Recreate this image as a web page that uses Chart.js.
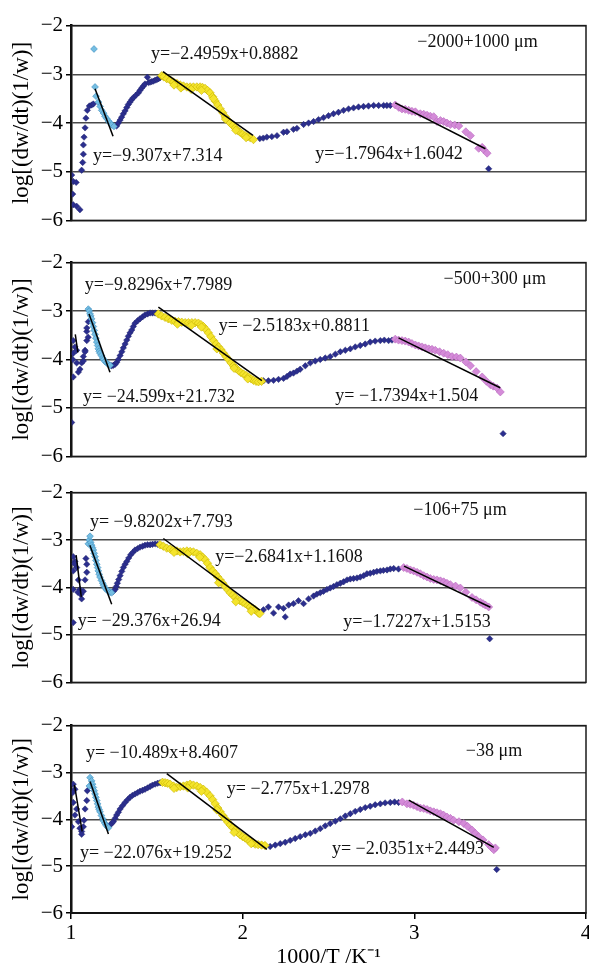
<!DOCTYPE html>
<html lang="en">
<head>
<meta charset="UTF-8">
<title>log[(dw/dt)(1/w)] vs 1000/T</title>
<script src="https://cdn.jsdelivr.net/npm/chart.js"></script>
<style>
  html, body { margin: 0; padding: 0; background: #fff; overflow: hidden; }
  body { width: 589px; height: 972px; position: relative; }
  .panel { position: absolute; left: 0; width: 589px; overflow: hidden; }
</style>
</head>
<body>
<div class="panel" style="top:10px;height:226px"><canvas id="c1" width="600" height="226"></canvas></div>
<div class="panel" style="top:247px;height:225px"><canvas id="c2" width="600" height="225"></canvas></div>
<div class="panel" style="top:477px;height:221px"><canvas id="c3" width="600" height="221"></canvas></div>
<div class="panel" style="top:710px;height:262px"><canvas id="c4" width="600" height="262"></canvas></div>

<script>
// ---- data: [1000/T, log rate] ----
// panel 1: -2000+1000 um
const p1Main = [[1.004,-5.07],[1.013,-5.2],[1.03,-5.22],[1.01,-5.46],[1.013,-5.68],[1.033,-5.71],[1.052,-5.78],
  [1.062,-4.97],[1.068,-4.81],[1.072,-4.64],[1.072,-4.45],[1.076,-4.29],[1.082,-4.10],[1.087,-3.90],[1.095,-3.74],[1.107,-3.65],[1.12,-3.63],[1.13,-3.61],
  [1.266,-4.06],[1.276,-4.0],[1.286,-3.94],[1.295,-3.88],[1.305,-3.81],[1.315,-3.75],[1.325,-3.68],[1.334,-3.62],[1.344,-3.57],[1.354,-3.52],[1.363,-3.48],[1.378,-3.43],[1.393,-3.38],[1.402,-3.33],[1.412,-3.28],[1.422,-3.24],[1.431,-3.20],[1.445,-3.06],[1.452,-3.17],[1.461,-3.16],[1.47,-3.15],[1.48,-3.14],[1.49,-3.12],[1.5,-3.11],[1.51,-3.09],[1.519,-3.07],
  [2.10,-4.32],[2.12,-4.31],[2.141,-4.29],[2.17,-4.28],[2.2,-4.26],[2.238,-4.19],[2.258,-4.18],[2.296,-4.13],[2.316,-4.11],[2.355,-4.03],[2.384,-4.0],[2.413,-3.97],[2.442,-3.93],[2.471,-3.89],[2.5,-3.85],[2.529,-3.81],[2.558,-3.78],[2.588,-3.74],[2.617,-3.71],[2.646,-3.69],[2.675,-3.67],[2.704,-3.66],[2.733,-3.65],[2.763,-3.64],[2.792,-3.64],[2.821,-3.64],[2.84,-3.64],[2.86,-3.64],
  [3.433,-4.94]];
const p1Cyan = [[1.134,-2.48],[1.14,-3.26],[1.146,-3.45],[1.16,-3.57],[1.17,-3.66],[1.179,-3.74],[1.19,-3.80],[1.198,-3.86],[1.208,-3.91],[1.218,-3.96],[1.228,-4.0],[1.237,-4.04],[1.25,-4.07]];
const p1Yellow = [[1.529,-3.03],[1.54,-3.05],[1.558,-3.09],[1.578,-3.12],[1.597,-3.16],[1.617,-3.19],[1.636,-3.22],[1.655,-3.24],[1.675,-3.26],[1.694,-3.26],[1.713,-3.26],[1.733,-3.26],[1.752,-3.26],[1.766,-3.27],[1.781,-3.29],[1.795,-3.33],[1.81,-3.38],[1.825,-3.46],[1.84,-3.55],[1.855,-3.63],[1.869,-3.71],[1.884,-3.79],[1.898,-3.87],[1.913,-3.94],[1.927,-4.0],[1.942,-4.05],[1.956,-4.1],[1.97,-4.15],[1.985,-4.19],[2.0,-4.23],[2.015,-4.26],[2.03,-4.28],[2.044,-4.30],[2.063,-4.34],
  [1.60,-3.22],[1.64,-3.28],[1.70,-3.31],[1.76,-3.33],[1.83,-3.50],[1.90,-3.92],[1.96,-4.15],[2.02,-4.30]];
const p1Pink = [[2.889,-3.63],[2.91,-3.68],[2.928,-3.71],[2.947,-3.72],[2.967,-3.74],[2.986,-3.76],[3.006,-3.77],[3.035,-3.81],[3.055,-3.82],[3.074,-3.84],[3.093,-3.86],[3.113,-3.87],[3.132,-3.97],[3.152,-3.95],[3.171,-3.97],[3.19,-4.0],[3.21,-4.03],[3.235,-4.04],[3.259,-4.06],[3.3,-4.18],[3.327,-4.26],[3.375,-4.52],[3.395,-4.50],[3.405,-4.55],[3.424,-4.62]];
// fits: [slope, intercept, x from, x to]
const p1Fits = [[-9.307,7.314,1.14,1.245],[-2.4959,0.8882,1.536,2.06],[-1.7964,1.6042,2.889,3.414]];
const p1Texts = ['y=−2.4959x+0.8882','y=−9.307x+7.314','y=−1.7964x+1.6042','−2000+1000 μm'];

// panel 2: -500+300 um
const p2Main = [[1.004,-5.3],[1.01,-4.0],[1.013,-3.61],[1.013,-3.87],[1.013,-4.36],[1.023,-3.74],[1.033,-3.81],[1.033,-4.07],[1.043,-4.26],[1.052,-4.2],[1.062,-4.07],[1.072,-3.94],[1.072,-4.03],[1.082,-3.81],[1.082,-3.84],[1.092,-3.61],[1.092,-3.42],[1.092,-3.35],[1.10,-3.54],[1.101,-3.22],
  [1.237,-4.13],[1.247,-4.12],[1.257,-4.10],[1.266,-4.06],[1.276,-4.0],[1.286,-3.92],[1.296,-3.84],[1.305,-3.76],[1.315,-3.68],[1.325,-3.60],[1.334,-3.52],[1.344,-3.45],[1.354,-3.39],[1.363,-3.32],[1.373,-3.25],[1.388,-3.20],[1.402,-3.16],[1.417,-3.12],[1.431,-3.08],[1.446,-3.06],[1.461,-3.04],[1.475,-3.04],[1.49,-3.04],
  [2.121,-4.44],[2.15,-4.44],[2.18,-4.43],[2.209,-4.41],[2.238,-4.39],[2.258,-4.35],[2.277,-4.30],[2.296,-4.28],[2.316,-4.24],[2.335,-4.20],[2.365,-4.13],[2.394,-4.07],[2.423,-4.03],[2.452,-4.0],[2.481,-3.97],[2.51,-3.94],[2.54,-3.89],[2.569,-3.84],[2.598,-3.81],[2.627,-3.78],[2.656,-3.74],[2.685,-3.71],[2.714,-3.68],[2.743,-3.64],[2.772,-3.62],[2.802,-3.61],[2.825,-3.60],[2.85,-3.61],[2.87,-3.60],
  [3.517,-5.53]];
const p2Cyan = [[1.101,-2.96],[1.106,-3.0],[1.111,-3.06],[1.115,-3.1],[1.12,-3.16],[1.125,-3.24],[1.13,-3.32],[1.135,-3.40],[1.14,-3.48],[1.145,-3.56],[1.15,-3.64],[1.155,-3.71],[1.159,-3.78],[1.164,-3.83],[1.169,-3.87],[1.177,-3.92],[1.185,-3.97],[1.19,-4.0],[1.198,-4.04],[1.208,-4.07],[1.218,-4.10],[1.228,-4.12]];
const p2Yellow = [[1.509,-3.06],[1.528,-3.10],[1.548,-3.13],[1.567,-3.16],[1.587,-3.19],[1.606,-3.21],[1.626,-3.22],[1.645,-3.23],[1.665,-3.24],[1.684,-3.24],[1.704,-3.24],[1.723,-3.24],[1.742,-3.25],[1.757,-3.28],[1.771,-3.32],[1.786,-3.38],[1.80,-3.45],[1.815,-3.53],[1.83,-3.61],[1.845,-3.68],[1.859,-3.74],[1.874,-3.80],[1.888,-3.87],[1.903,-3.94],[1.917,-4.0],[1.932,-4.07],[1.946,-4.13],[1.961,-4.18],[1.976,-4.23],[1.99,-4.27],[2.005,-4.30],[2.02,-4.33],[2.034,-4.36],[2.05,-4.40],[2.063,-4.43],[2.078,-4.45],[2.092,-4.46],[2.11,-4.45],
  [1.62,-3.27],[1.70,-3.30],[1.76,-3.33],[1.85,-3.78],[1.95,-4.18],[2.03,-4.40]];
const p2Pink = [[2.889,-3.58],[2.908,-3.60],[2.928,-3.61],[2.947,-3.62],[2.967,-3.64],[2.986,-3.67],[3.006,-3.70],[3.025,-3.72],[3.045,-3.74],[3.064,-3.76],[3.084,-3.78],[3.103,-3.79],[3.122,-3.81],[3.147,-3.84],[3.171,-3.87],[3.195,-3.90],[3.22,-3.94],[3.245,-3.95],[3.268,-3.97],[3.3,-4.05],[3.327,-4.13],[3.36,-4.25],[3.395,-4.36],[3.42,-4.45],[3.443,-4.52],[3.46,-4.55],[3.482,-4.59],[3.501,-4.67]];
const p2Fits = [[-24.599,21.732,1.025,1.04],[-9.8296,7.7989,1.105,1.227],[-2.5183,0.8811,1.509,2.112],[-1.7394,1.504,2.908,3.50]];
const p2Texts = ['y=−9.8296x+7.7989','y= −2.5183x+0.8811','y= −24.599x+21.732','y= −1.7394x+1.504','−500+300 μm'];

// panel 3: -106+75 um
const p3Main = [[1.013,-3.35],[1.023,-3.45],[1.013,-3.65],[1.033,-3.58],[1.013,-4.04],[1.043,-3.84],[1.052,-4.04],[1.062,-4.24],[1.072,-4.08],[1.082,-3.84],[1.092,-3.68],[1.092,-3.51],[1.087,-3.39],[1.013,-4.74],[1.02,-3.5],[1.04,-4.1],[1.057,-4.15],
  [1.247,-4.08],[1.257,-4.04],[1.264,-3.98],[1.27,-3.91],[1.278,-3.83],[1.286,-3.75],[1.296,-3.66],[1.305,-3.58],[1.315,-3.51],[1.325,-3.45],[1.336,-3.38],[1.348,-3.31],[1.36,-3.26],[1.373,-3.21],[1.388,-3.18],[1.402,-3.15],[1.417,-3.13],[1.431,-3.11],[1.446,-3.10],[1.461,-3.10],[1.475,-3.09],[1.49,-3.08],[1.505,-3.09],
  [2.121,-4.47],[2.15,-4.41],[2.18,-4.54],[2.209,-4.41],[2.238,-4.44],[2.248,-4.62],[2.268,-4.37],[2.296,-4.34],[2.325,-4.28],[2.355,-4.34],[2.384,-4.24],[2.413,-4.18],[2.432,-4.14],[2.452,-4.11],[2.471,-4.08],[2.491,-4.04],[2.51,-4.01],[2.529,-3.98],[2.549,-3.94],[2.569,-3.91],[2.588,-3.88],[2.608,-3.84],[2.627,-3.82],[2.646,-3.81],[2.666,-3.80],[2.685,-3.78],[2.705,-3.75],[2.724,-3.71],[2.743,-3.70],[2.763,-3.68],[2.782,-3.66],[2.802,-3.65],[2.82,-3.64],[2.841,-3.63],[2.86,-3.61],[2.88,-3.60],[2.908,-3.61],
  [3.439,-5.08]];
const p3Cyan = [[1.101,-3.08],[1.106,-3.0],[1.111,-2.92],[1.115,-3.05],[1.12,-3.11],[1.125,-3.16],[1.13,-3.21],[1.135,-3.28],[1.14,-3.35],[1.145,-3.43],[1.15,-3.51],[1.155,-3.58],[1.159,-3.65],[1.164,-3.72],[1.169,-3.78],[1.177,-3.85],[1.185,-3.91],[1.19,-3.96],[1.198,-4.01],[1.208,-4.05],[1.218,-4.08],[1.228,-4.10],[1.237,-4.11]];
const p3Yellow = [[1.519,-3.10],[1.538,-3.13],[1.558,-3.17],[1.578,-3.19],[1.597,-3.21],[1.617,-3.23],[1.636,-3.25],[1.655,-3.24],[1.675,-3.23],[1.694,-3.24],[1.713,-3.25],[1.733,-3.28],[1.752,-3.31],[1.766,-3.36],[1.781,-3.41],[1.795,-3.49],[1.81,-3.58],[1.825,-3.65],[1.84,-3.71],[1.855,-3.78],[1.869,-3.84],[1.884,-3.91],[1.898,-3.98],[1.913,-4.05],[1.927,-4.11],[1.942,-4.16],[1.956,-4.21],[1.97,-4.25],[1.985,-4.28],[2.0,-4.31],[2.015,-4.34],[2.03,-4.38],[2.044,-4.41],[2.06,-4.44],[2.073,-4.47],[2.092,-4.54],[2.10,-4.55],
  [1.60,-3.26],[1.68,-3.29],[1.75,-3.36],[1.86,-3.90],[1.96,-4.30],[2.05,-4.50]];
const p3Pink = [[2.938,-3.58],[2.957,-3.60],[2.977,-3.63],[2.996,-3.65],[3.016,-3.68],[3.035,-3.71],[3.055,-3.75],[3.074,-3.78],[3.093,-3.81],[3.113,-3.83],[3.132,-3.84],[3.152,-3.86],[3.171,-3.88],[3.19,-3.91],[3.21,-3.94],[3.24,-3.97],[3.268,-4.01],[3.30,-4.10],[3.336,-4.21],[3.36,-4.26],[3.385,-4.31],[3.40,-4.34],[3.414,-4.37],[3.433,-4.41]];
const p3Fits = [[-29.376,26.94,1.03,1.06],[-9.8202,7.793,1.11,1.237],[-2.6841,1.1608,1.538,2.10],[-1.7227,1.5153,2.94,3.443]];
const p3Texts = ['y= −9.8202x+7.793','y=−2.6841x+1.1608','y= −29.376x+26.94','y=−1.7227x+1.5153','−106+75 μm'];

// panel 4: -38 um
const p4Main = [[1.013,-3.25],[1.023,-3.36],[1.01,-3.43],[1.013,-3.64],[1.004,-4.16],[1.023,-3.91],[1.033,-3.78],[1.043,-4.05],[1.052,-4.19],[1.062,-4.26],[1.062,-4.32],[1.072,-4.16],[1.076,-4.02],[1.082,-3.78],[1.092,-3.60],[1.095,-3.39],
  [1.227,-4.12],[1.237,-4.09],[1.247,-4.05],[1.257,-3.98],[1.266,-3.91],[1.276,-3.85],[1.286,-3.78],[1.30,-3.71],[1.315,-3.64],[1.33,-3.58],[1.344,-3.53],[1.358,-3.49],[1.373,-3.46],[1.388,-3.43],[1.402,-3.40],[1.417,-3.38],[1.431,-3.36],[1.446,-3.33],[1.461,-3.30],[1.475,-3.27],[1.49,-3.25],[1.505,-3.23],[1.519,-3.22],
  [2.16,-4.58],[2.19,-4.55],[2.219,-4.52],[2.248,-4.49],[2.277,-4.45],[2.306,-4.41],[2.335,-4.37],[2.365,-4.33],[2.394,-4.30],[2.423,-4.25],[2.452,-4.20],[2.481,-4.14],[2.51,-4.09],[2.54,-4.04],[2.569,-3.99],[2.598,-3.93],[2.627,-3.88],[2.656,-3.83],[2.685,-3.79],[2.714,-3.75],[2.743,-3.72],[2.772,-3.69],[2.802,-3.67],[2.83,-3.65],[2.86,-3.64],[2.885,-3.63],[2.908,-3.64],
  [3.48,-5.07]];
const p4Cyan = [[1.107,-3.29],[1.111,-3.11],[1.12,-3.18],[1.125,-3.25],[1.13,-3.32],[1.135,-3.39],[1.14,-3.46],[1.145,-3.53],[1.15,-3.60],[1.155,-3.67],[1.159,-3.74],[1.164,-3.79],[1.169,-3.84],[1.177,-3.92],[1.185,-3.99],[1.19,-4.04],[1.198,-4.09],[1.205,-4.13],[1.212,-4.16],[1.218,-4.18]];
const p4Yellow = [[1.533,-3.21],[1.548,-3.22],[1.562,-3.23],[1.577,-3.25],[1.597,-3.29],[1.616,-3.32],[1.636,-3.30],[1.655,-3.29],[1.675,-3.27],[1.694,-3.25],[1.713,-3.27],[1.733,-3.29],[1.752,-3.32],[1.771,-3.36],[1.79,-3.42],[1.81,-3.50],[1.825,-3.58],[1.84,-3.67],[1.855,-3.76],[1.869,-3.84],[1.884,-3.92],[1.898,-3.99],[1.913,-4.06],[1.927,-4.12],[1.942,-4.18],[1.956,-4.23],[1.97,-4.28],[1.985,-4.33],[2.0,-4.37],[2.015,-4.40],[2.03,-4.44],[2.044,-4.47],[2.06,-4.50],[2.073,-4.53],[2.09,-4.54],[2.11,-4.55],[2.13,-4.56],
  [1.60,-3.34],[1.68,-3.33],[1.76,-3.40],[1.85,-3.80],[1.95,-4.28],[2.05,-4.52]];
const p4Pink = [[2.93,-3.63],[2.957,-3.67],[2.976,-3.68],[2.996,-3.70],[3.016,-3.73],[3.035,-3.76],[3.055,-3.77],[3.074,-3.79],[3.093,-3.82],[3.113,-3.84],[3.132,-3.86],[3.152,-3.88],[3.17,-3.91],[3.19,-3.95],[3.21,-3.98],[3.229,-4.02],[3.26,-4.05],[3.288,-4.09],[3.31,-4.15],[3.336,-4.23],[3.355,-4.30],[3.375,-4.37],[3.40,-4.44],[3.433,-4.54],[3.45,-4.60],[3.463,-4.65],[3.472,-4.61]];
const p4Fits = [[-22.076,19.252,1.02,1.065],[-10.489,8.4607,1.111,1.218],[-2.775,1.2978,1.558,2.141],[-2.0351,2.4493,2.967,3.463]];
const p4Texts = ['y= −10.489x+8.4607','y= −2.775x+1.2978','y= −22.076x+19.252','y= −2.0351x+2.4493','−38 μm'];

const yTicks = [-6, -5, -4, -3, -2];
const xTicks = [1, 2, 3, 4];

// ---- layout / style ----
const FONT = "'Liberation Serif', 'Times New Roman', serif";
Chart.defaults.font.family = FONT;
Chart.defaults.color = '#000';

// where each text sits, in data units (same order as pN Texts)
const textPos = [
  [[1.466,-2.58],[1.128,-4.68],[2.423,-4.64],[3.017,-2.35]],
  [[1.08,-2.47],[1.86,-3.31],[1.07,-4.78],[2.54,-4.75],[3.17,-2.34]],
  [[1.11,-2.62],[1.84,-3.37],[1.04,-4.71],[2.586,-4.74],[2.994,-2.38]],
  [[1.087,-2.59],[1.908,-3.36],[1.052,-4.72],[2.52,-4.65],[3.30,-2.55]]
];

const framePlugin = {
  id: 'frame',
  afterDraw(chart) {
    const a = chart.chartArea, ctx = chart.ctx;
    ctx.save();
    ctx.strokeStyle = '#1a1a1a';
    ctx.lineWidth = 1.5;
    ctx.strokeRect(a.left, a.top, a.right - a.left, a.bottom - a.top);
    ctx.restore();
  }
};

const notesPlugin = {
  id: 'notes',
  afterDatasetsDraw(chart, args, opts) {
    const {ctx, scales: {x, y}} = chart;
    ctx.save();
    ctx.font = '18px ' + FONT;
    ctx.fillStyle = '#111';
    ctx.textBaseline = 'middle';
    opts.items.forEach(n => ctx.fillText(n.text, x.getPixelForValue(n.x), y.getPixelForValue(n.y)));
    ctx.restore();
  }
};

const pts = arr => arr.map(p => ({x: p[0], y: p[1]}));
const fitLine = f => [{x: f[2], y: f[0] * f[2] + f[1]}, {x: f[3], y: f[0] * f[3] + f[1]}];

function makePanel(id, main, cyan, yellow, pink, fits, texts, pos, last) {
  const lines = fits.map(f => ({
    type: 'line', data: fitLine(f), borderColor: '#000', borderWidth: 1.5,
    pointRadius: 0, showLine: true, fill: false
  }));
  const series = [
    {data: pts(pink), pointStyle: 'rectRot', pointRadius: 4, backgroundColor: '#D48BD8', borderColor: '#B767BD', borderWidth: 0.6},
    {data: pts(yellow), pointStyle: 'rectRot', pointRadius: 4.2, backgroundColor: '#F4E42C', borderColor: '#C8B400', borderWidth: 0.6},
    {data: pts(cyan), pointStyle: 'rectRot', pointRadius: 3.4, backgroundColor: '#74BDE2', borderColor: '#3E8EC0', borderWidth: 0.6},
    {data: pts(main), pointStyle: 'rectRot', pointRadius: 3.2, backgroundColor: '#2B2E8E', borderColor: '#23266F', borderWidth: 0.5}
  ];

  new Chart(document.getElementById(id), {
    type: 'scatter',
    data: {datasets: lines.concat(series)},
    options: {
      responsive: false,
      animation: false,
      events: [],
      layout: {padding: {top: 12, right: 14, bottom: last ? 0 : 8, left: 0}},
      plugins: {
        legend: {display: false},
        tooltip: {enabled: false},
        notes: {items: texts.map((t, i) => ({text: t, x: pos[i][0], y: pos[i][1]}))}
      },
      scales: {
        x: {
          type: 'linear', min: xTicks[0], max: xTicks[xTicks.length - 1],
          display: last,
          afterBuildTicks: s => { s.ticks = xTicks.map(v => ({value: v})); },
          afterFit: s => { s.height = last ? 59 : 0; },
          ticks: {font: {size: 21}, padding: 2, color: '#000'},
          grid: {drawOnChartArea: false, drawTicks: true, tickLength: 6, tickColor: '#000', lineWidth: 1.5},
          border: {display: true, color: '#000', width: 2},
          title: {display: true, text: '1000/T /K⁻¹', font: {size: 22}, padding: {top: 0, bottom: 2}}
        },
        y: {
          type: 'linear', min: yTicks[0], max: yTicks[yTicks.length - 1],
          afterBuildTicks: s => { s.ticks = yTicks.map(v => ({value: v})); },
          afterFit: s => { s.width = 71; },
          ticks: {font: {size: 21}, padding: 3, color: '#000', callback: v => String(v).replace('-', '\u2212')},
          grid: {color: '#4a4a4a', lineWidth: 1.5, drawTicks: true, tickLength: 5, tickColor: '#000'},
          border: {display: true, color: '#000', width: 2.5},
          title: {display: true, text: 'log[(dw/dt)(1/w)]', font: {size: 23}, padding: {top: 8, bottom: 0}}
        }
      }
    },
    plugins: [framePlugin, notesPlugin]
  });
}

makePanel('c1', p1Main, p1Cyan, p1Yellow, p1Pink, p1Fits, p1Texts, textPos[0], false);
makePanel('c2', p2Main, p2Cyan, p2Yellow, p2Pink, p2Fits, p2Texts, textPos[1], false);
makePanel('c3', p3Main, p3Cyan, p3Yellow, p3Pink, p3Fits, p3Texts, textPos[2], false);
makePanel('c4', p4Main, p4Cyan, p4Yellow, p4Pink, p4Fits, p4Texts, textPos[3], true);
</script>
</body>
</html>
